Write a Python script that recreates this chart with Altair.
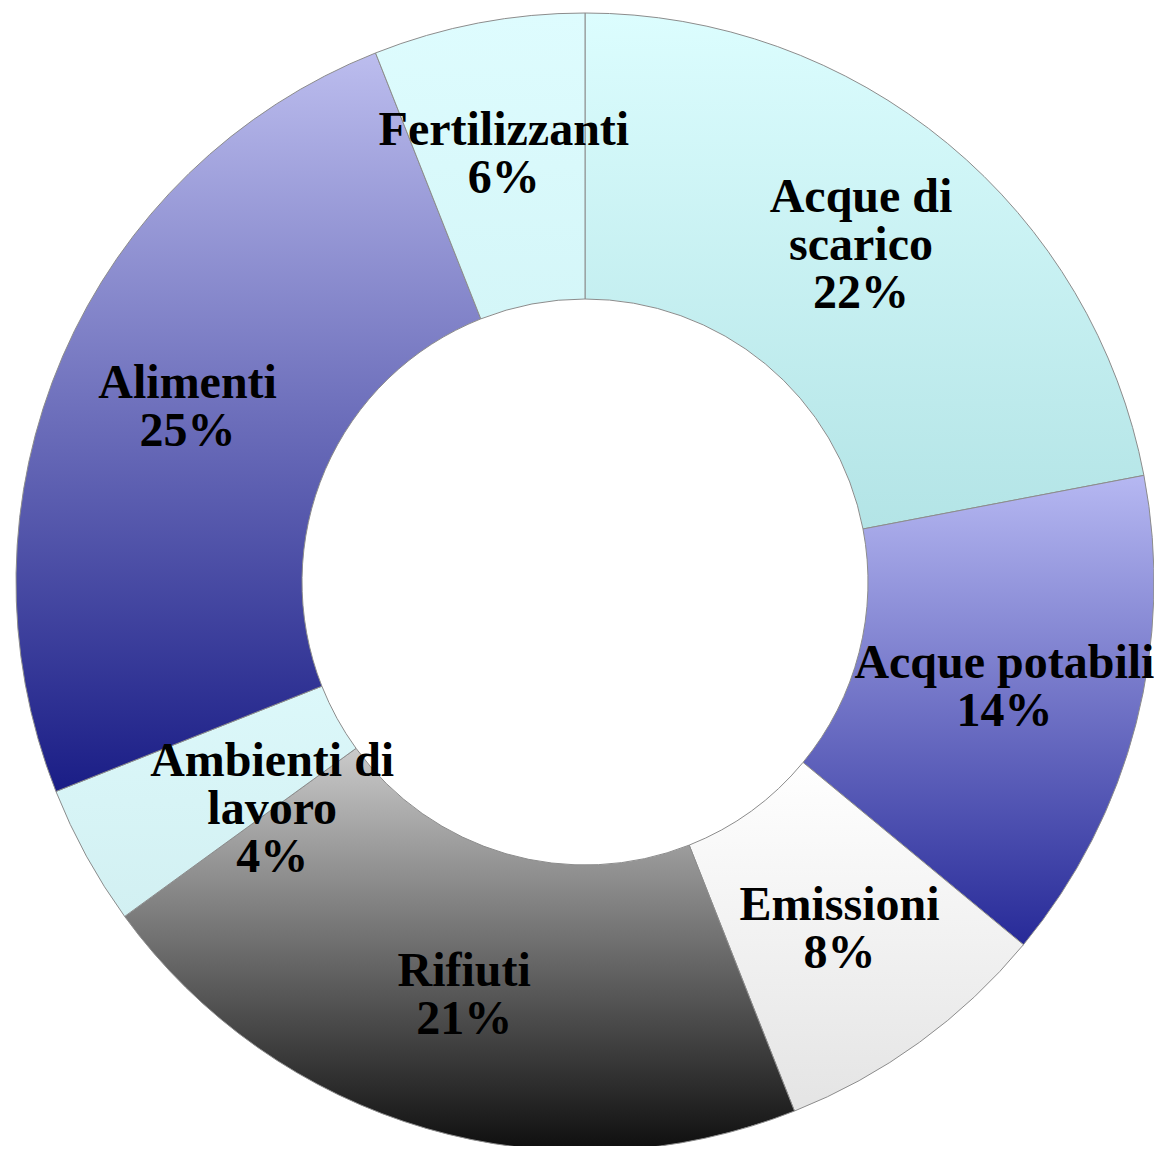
import altair as alt
import pandas as pd

categories = ["Acque di scarico", "Acque potabili", "Emissioni", "Rifiuti",
              "Ambienti di lavoro", "Alimenti", "Fertilizzanti"]
values = [22, 14, 8, 21, 4, 25, 6]
label_names = ["Acque di\nscarico", "Acque potabili", "Emissioni", "Rifiuti",
               "Ambienti di\nlavoro", "Alimenti", "Fertilizzanti"]
grad_top = ["#dcfdfe", "#b6b8f2", "#ffffff", "#cacaca", "#dcf8fa", "#bcbdee", "#defcfe"]
grad_bottom = ["#b3e4e6", "#272a98", "#e4e4e4", "#0e0e0e", "#d2f0f2", "#1a1d86", "#d4f6f8"]

df = pd.DataFrame({
    "idx": list(range(len(categories))),
    "category": categories,
    "value": values,
    "label": [f"{n}\n{v}%" for n, v in zip(label_names, values)],
})

theta_scale = alt.Scale(domain=[0, 100])

base = alt.Chart(df).transform_window(
    cum="sum(value)", sort=[alt.SortField("idx")], frame=[None, 0]
).transform_calculate(
    start="datum.cum - datum.value",
    mid="datum.cum - datum.value / 2",
)

layers = []
for i, cat in enumerate(categories):
    grad = alt.LinearGradient(
        gradient="linear", x1=0, y1=0, x2=0, y2=1,
        stops=[alt.GradientStop(color=grad_top[i], offset=0),
               alt.GradientStop(color=grad_bottom[i], offset=1)],
    )
    layers.append(
        base.transform_filter(alt.datum.category == cat)
        .mark_arc(fill=grad, stroke="#8c8c8c", strokeWidth=1)
        .encode(
            theta=alt.Theta("start:Q", scale=theta_scale),
            theta2="cum:Q",
            radius=alt.value(569),
            radius2=alt.value(283),
        )
    )

text_props = dict(font="Liberation Serif", fontWeight="bold", fontSize=48,
                  lineHeight=48, lineBreak="\n", align="center",
                  baseline="middle", color="#000000")

three_line = ["Acque di scarico", "Ambienti di lavoro"]


def text_layer(flt, dx, dy, r):
    return base.transform_filter(flt).mark_text(dx=dx, dy=dy, **text_props).encode(
        theta=alt.Theta("mid:Q", scale=theta_scale),
        radius=alt.value(r),
        text="label:N",
    )


labels_two = text_layer(~alt.FieldOneOfPredicate(field="category", oneOf=three_line), 0, -26, 433)
labels_scarico = text_layer(alt.datum.category == "Acque di scarico", 0, -50, 433)
labels_amb = text_layer(alt.datum.category == "Ambienti di lavoro", 64, -27, 430)

chart = alt.layer(*layers, labels_two, labels_scarico, labels_amb).properties(
    width=1138, height=1128,
    padding={"left": 8, "top": 10, "right": 0, "bottom": 0},
    autosize=alt.AutoSizeParams(type="none"),
).configure_view(stroke=None)

chart.save("out.html", embed_options={"renderer": "svg", "actions": False})
